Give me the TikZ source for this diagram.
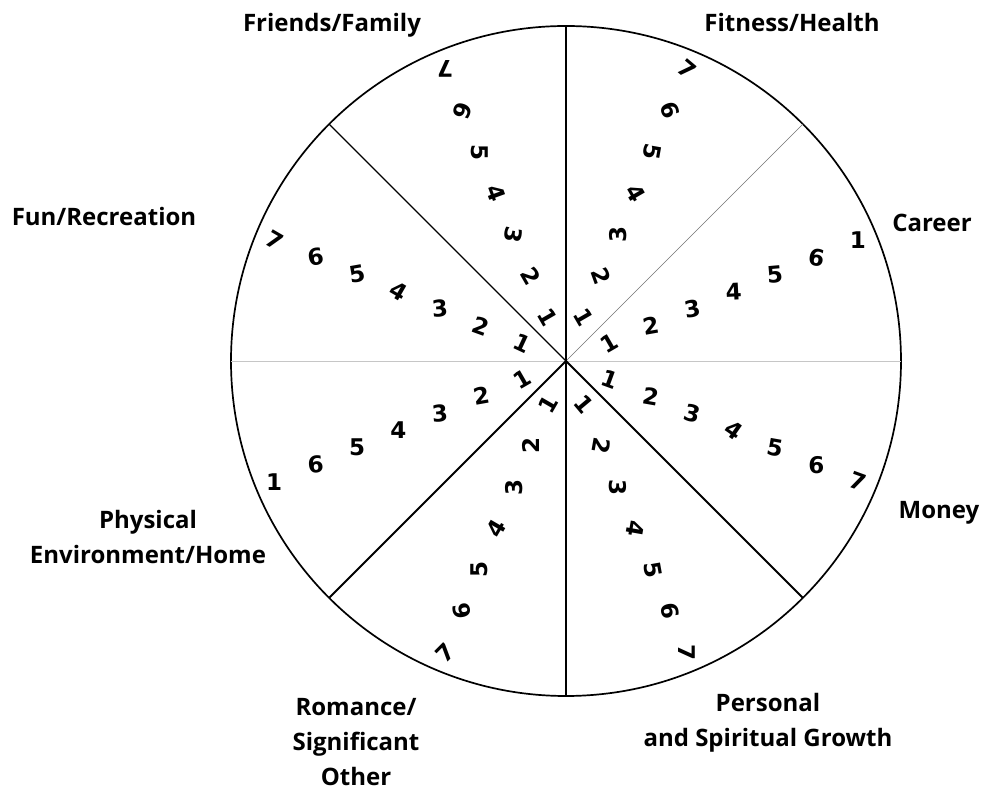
\documentclass[tikz,border=0pt]{standalone}
\usepackage{fontspec}
\setmainfont{Open Sans}
\newfontfamily\digitfont{DejaVu Sans}
\usetikzlibrary{positioning}

% one spoke of digits: name, angle, list of digit/rotation
\newcommand{\wheelspoke}[3]{%
  \foreach \d/\r [count=\k] in {#3} {
    \node[digit, rotate=\r] (#1-\k) at ({#2}:{47+44.8*(\k-1)}) {\d};
  }%
}

\begin{document}
\begin{tikzpicture}[x=1pt, y=1pt,
  digit/.style={font=\digitfont\bfseries\fontsize{23}{23}\selectfont, inner sep=0pt},
  area/.style={font=\bfseries\fontsize{24}{35}\selectfont, align=center, inner sep=0pt},
  rim/.style={line width=1.7pt}]

\useasboundingbox (-566,-430) rectangle (416,361);

\coordinate (c) at (0,0);
\coordinate (rim-n) at (90:335);
\coordinate (rim-s) at (270:335);
\coordinate (rim-w) at (180:335);
\coordinate (rim-e) at (0:335);
\coordinate (rim-ne) at (45:335);
\coordinate (rim-nw) at (135:335);
\coordinate (rim-sw) at (225:335);
\coordinate (rim-se) at (315:335);

\draw[rim] (c) circle (335);
\draw[gray!45, line width=0.9pt] (rim-w) -- (rim-e);
\draw[black!55, line width=0.6pt] (c) -- (rim-ne);
\draw[line width=1.3pt] (c) -- (rim-nw);
\draw[line width=2pt] (c) -- (rim-sw);
\draw[line width=2pt] (c) -- (rim-se);
\draw[line width=2pt] (rim-n) -- (rim-s);

% digits
\wheelspoke{career}{22.5}{1/30, 2/10, 3/10, 4/3, 5/5, 6/-10, 1/0}
\wheelspoke{fitness}{67.5}{1/-60, 2/-70, 3/90, 4/-60, 5/-100, 6/-70, 7/-40}
\wheelspoke{friends}{112.5}{1/-60, 2/-60, 3/-100, 4/-70, 5/-90, 6/-110, 7/180}
\wheelspoke{fun}{157.5}{1/-25, 2/-20, 3/5, 4/-30, 5/10, 6/10, 7/-30}
\wheelspoke{home}{202.5}{1/30, 2/10, 3/5, 4/0, 5/0, 6/5, 1/0}
\wheelspoke{romance}{247.5}{1/60, 2/90, 3/90, 4/60, 5/90, 6/100, 7/45}
\wheelspoke{growth}{292.5}{1/-50, 2/-100, 3/-90, 4/-100, 5/-80, 6/-80, 7/-90}
\wheelspoke{money}{337.5}{1/-20, 2/-10, 3/-15, 4/-35, 5/-10, 6/0, 7/-20}

% areas
\node[area] (friends) at (-234,336) {Friends/Family};
\node[area] (fitness) at (226,338) {Fitness/Health};
\node[area] (career) at (366,138) {Career};
\node[area] (fun) at (-462,144) {Fun/Recreation};
\node[area] (money) at (373,-152) {Money};
\node[area] (home) at (-418,-176) {Physical\\Environment/Home};
\node[area] (romance) at (-210,-381) {Romance/\\Significant\\Other};
\node[area] (growth) at (202,-362) {Personal\\and Spiritual Growth};

\end{tikzpicture}
\end{document}
